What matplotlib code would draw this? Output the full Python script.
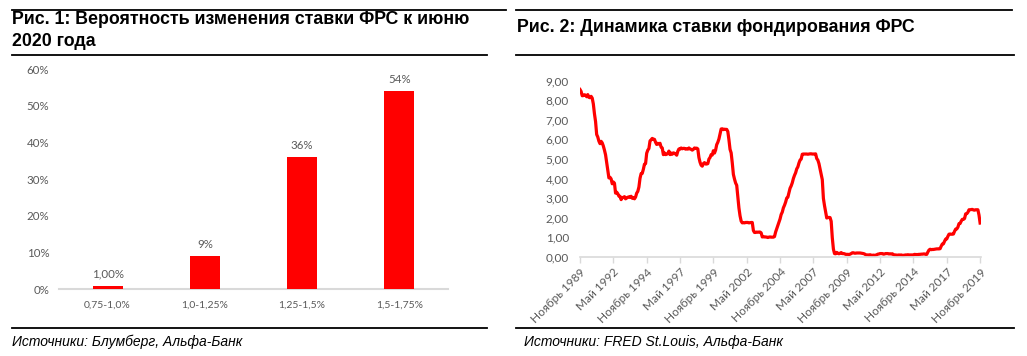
import matplotlib
matplotlib.use("Agg")
import matplotlib.pyplot as plt
from matplotlib.lines import Line2D

# ---------------- data ----------------
prob_categories = ["0,75-1,0%", "1,0-1,25%", "1,25-1,5%", "1,5-1,75%"]
prob_values = [1, 9, 36, 54]
prob_labels = ["1,00%", "9%", "36%", "54%"]
prob_yticks = [0, 10, 20, 30, 40, 50, 60]
prob_yticklabels = ["0%", "10%", "20%", "30%", "40%", "50%", "60%"]

# Effective Fed funds rate, monthly from Nov 1989 to Nov 2019
rate_1989 = [8.55, 8.45]
rate_1990 = [8.23, 8.24, 8.28, 8.26, 8.18, 8.29, 8.15, 8.13, 8.20, 8.11, 7.81, 7.31]
rate_1991 = [6.91, 6.25, 6.12, 5.91, 5.78, 5.90, 5.82, 5.66, 5.45, 5.21, 4.81, 4.43]
rate_1992 = [4.03, 4.06, 3.98, 3.73, 3.82, 3.76, 3.25, 3.30, 3.22, 3.10, 3.09, 2.92]
rate_1993 = [3.02, 3.03, 3.07, 2.96, 3.00, 3.04, 3.06, 3.03, 3.09, 2.99, 3.02, 2.96]
rate_1994 = [3.05, 3.25, 3.34, 3.56, 4.01, 4.25, 4.26, 4.47, 4.73, 4.76, 5.29, 5.45]
rate_1995 = [5.53, 5.92, 5.98, 6.05, 6.01, 6.00, 5.85, 5.74, 5.80, 5.76, 5.80, 5.60]
rate_1996 = [5.56, 5.22, 5.31, 5.22, 5.24, 5.27, 5.40, 5.22, 5.30, 5.24, 5.31, 5.29]
rate_1997 = [5.25, 5.19, 5.39, 5.51, 5.50, 5.56, 5.52, 5.54, 5.54, 5.50, 5.52, 5.50]
rate_1998 = [5.56, 5.51, 5.49, 5.45, 5.49, 5.56, 5.54, 5.55, 5.51, 5.07, 4.83, 4.68]
rate_1999 = [4.63, 4.76, 4.81, 4.74, 4.74, 4.76, 4.99, 5.07, 5.22, 5.20, 5.42, 5.30]
rate_2000 = [5.45, 5.73, 5.85, 6.02, 6.27, 6.53, 6.54, 6.50, 6.52, 6.51, 6.51, 6.40]
rate_2001 = [5.98, 5.49, 5.31, 4.80, 4.21, 3.97, 3.77, 3.65, 3.07, 2.49, 2.09, 1.82]
rate_2002 = [1.73, 1.74, 1.73, 1.75, 1.75, 1.75, 1.73, 1.74, 1.75, 1.75, 1.34, 1.24]
rate_2003 = [1.24, 1.26, 1.25, 1.26, 1.26, 1.22, 1.01, 1.03, 1.01, 1.01, 1.00, 0.98]
rate_2004 = [1.00, 1.01, 1.00, 1.00, 1.00, 1.03, 1.26, 1.43, 1.61, 1.76, 1.93, 2.16]
rate_2005 = [2.28, 2.50, 2.63, 2.79, 3.00, 3.04, 3.26, 3.50, 3.62, 3.78, 4.00, 4.16]
rate_2006 = [4.29, 4.49, 4.59, 4.79, 4.94, 4.99, 5.24, 5.25, 5.25, 5.25, 5.25, 5.24]
rate_2007 = [5.25, 5.26, 5.26, 5.25, 5.25, 5.25, 5.26, 5.02, 4.94, 4.76, 4.49, 4.24]
rate_2008 = [3.94, 2.98, 2.61, 2.28, 1.98, 2.00, 2.01, 2.00, 1.81, 0.97, 0.39, 0.16]
rate_2009 = [0.15, 0.22, 0.18, 0.15, 0.18, 0.21, 0.16, 0.16, 0.15, 0.12, 0.12, 0.12]
rate_2010 = [0.11, 0.13, 0.16, 0.20, 0.20, 0.18, 0.18, 0.19, 0.19, 0.19, 0.19, 0.18]
rate_2011 = [0.17, 0.16, 0.14, 0.10, 0.09, 0.09, 0.07, 0.10, 0.08, 0.07, 0.08, 0.07]
rate_2012 = [0.08, 0.10, 0.13, 0.14, 0.16, 0.16, 0.16, 0.13, 0.14, 0.16, 0.16, 0.16]
rate_2013 = [0.14, 0.15, 0.14, 0.15, 0.11, 0.09, 0.09, 0.08, 0.08, 0.09, 0.08, 0.09]
rate_2014 = [0.07, 0.07, 0.08, 0.09, 0.09, 0.10, 0.09, 0.09, 0.09, 0.09, 0.09, 0.12]
rate_2015 = [0.11, 0.11, 0.11, 0.12, 0.12, 0.13, 0.13, 0.14, 0.14, 0.12, 0.12, 0.24]
rate_2016 = [0.34, 0.38, 0.36, 0.37, 0.37, 0.38, 0.39, 0.40, 0.40, 0.40, 0.41, 0.54]
rate_2017 = [0.65, 0.66, 0.79, 0.90, 0.91, 1.04, 1.15, 1.16, 1.15, 1.15, 1.16, 1.30]
rate_2018 = [1.41, 1.42, 1.51, 1.69, 1.70, 1.82, 1.91, 1.91, 1.95, 2.19, 2.20, 2.27]
rate_2019 = [2.40, 2.40, 2.41, 2.42, 2.39, 2.38, 2.40, 2.40, 2.40, 2.13, 1.72]

rate_years = [rate_1989, rate_1990, rate_1991, rate_1992, rate_1993, rate_1994,
              rate_1995, rate_1996, rate_1997, rate_1998, rate_1999, rate_2000,
              rate_2001, rate_2002, rate_2003, rate_2004, rate_2005, rate_2006,
              rate_2007, rate_2008, rate_2009, rate_2010, rate_2011, rate_2012,
              rate_2013, rate_2014, rate_2015, rate_2016, rate_2017, rate_2018,
              rate_2019]
rates = [v for yr in rate_years for v in yr]

date_labels = ["Ноябрь 1989", "Май 1992", "Ноябрь 1994", "Май 1997", "Ноябрь 1999",
               "Май 2002", "Ноябрь 2004", "Май 2007", "Ноябрь 2009", "Май 2012",
               "Ноябрь 2014", "Май 2017", "Ноябрь 2019"]
date_ticks = [30 * i for i in range(len(date_labels))]
rate_yticks = [0, 1, 2, 3, 4, 5, 6, 7, 8, 9]
rate_yticklabels = ["0,00", "1,00", "2,00", "3,00", "4,00", "5,00", "6,00",
                    "7,00", "8,00", "9,00"]

# ---------------- style ----------------
W, H = 1027, 356
RED = "#FF0000"
GRAY_TXT = "#595959"
AXIS_GRAY = "#D9D9D9"
TICK_FONT = "Lato"
HEAD_FONT = "Liberation Sans"

fig = plt.figure(figsize=(W / 100, H / 100), dpi=100)
fig.patch.set_facecolor("white")


def fx(px):
    return px / W


def fy(py):
    return 1 - py / H


def hline(x0, x1, y, lw=1.3):
    fig.add_artist(Line2D([fx(x0), fx(x1)], [fy(y), fy(y)], color="black",
                          lw=lw, transform=fig.transFigure))


# rules
hline(12, 506, 9.5)
hline(12, 487, 55)
hline(12, 487, 328)
hline(516, 1012, 9.5)
hline(516, 1014, 55)
hline(516, 1014, 328)

# headings
fig.text(fx(12), fy(20), "Рис. 1: Вероятность изменения ставки ФРС к июню",
         fontsize=12.8, fontweight="bold", family=HEAD_FONT, va="center", ha="left")
fig.text(fx(12), fy(41), "2020 года",
         fontsize=12.8, fontweight="bold", family=HEAD_FONT, va="center", ha="left")
fig.text(fx(517), fy(27), "Рис. 2: Динамика ставки фондирования ФРС",
         fontsize=12.8, fontweight="bold", family=HEAD_FONT, va="center", ha="left")
fig.text(fx(12), fy(342), "Источники: Блумберг, Альфа-Банк",
         fontsize=10, style="italic", family=HEAD_FONT, va="center", ha="left")
fig.text(fx(524), fy(342), "Источники: FRED St.Louis, Альфа-Банк",
         fontsize=10, style="italic", family=HEAD_FONT, va="center", ha="left")

# ---------------- left chart ----------------
ax1 = fig.add_axes([fx(59), fy(289.3), fx(448 - 59), (289.3 - 69) / H])
x1 = list(range(len(prob_categories)))
bars = ax1.bar(x1, prob_values, width=0.31, color=RED, zorder=3)
ax1.set_xlim(-0.5, len(prob_categories) - 0.5)
ax1.set_ylim(0, 60)
ax1.set_yticks(prob_yticks)
ax1.set_yticklabels(prob_yticklabels)
ax1.set_xticks(x1)
ax1.set_xticklabels(prob_categories)
for s in ["top", "right", "left"]:
    ax1.spines[s].set_visible(False)
ax1.spines["bottom"].set_color(AXIS_GRAY)
ax1.spines["bottom"].set_linewidth(1.5)
ax1.tick_params(axis="x", length=0, colors=GRAY_TXT, labelsize=7.5, pad=8)
ax1.tick_params(axis="y", length=0, colors=GRAY_TXT, labelsize=8.3, pad=7)
for lab in ax1.get_xticklabels() + ax1.get_yticklabels():
    lab.set_family(TICK_FONT)
for b, lab in zip(bars, prob_labels):
    ax1.annotate(lab, (b.get_x() + b.get_width() / 2, b.get_height()),
                 xytext=(0, 4.5), textcoords="offset points", ha="center",
                 va="bottom", fontsize=8.3, color=GRAY_TXT, family=TICK_FONT)

# ---------------- right chart ----------------
ax2 = fig.add_axes([fx(580), fy(256.7), fx(981 - 580), (256.7 - 80.7) / H])
ax2.plot(range(len(rates)), rates, color=RED, lw=2.3, solid_joinstyle="round")
ax2.set_xlim(0, len(rates) - 0.2)
ax2.set_ylim(0, 9)
ax2.set_yticks(rate_yticks)
ax2.set_yticklabels(rate_yticklabels)
ax2.set_xticks(date_ticks)
ax2.set_xticklabels(date_labels, rotation=45, ha="right", va="top",
                    rotation_mode="anchor")
for s in ["top", "right", "left"]:
    ax2.spines[s].set_visible(False)
ax2.spines["bottom"].set_color(AXIS_GRAY)
ax2.spines["bottom"].set_linewidth(1.2)
ax2.tick_params(axis="y", length=0, colors=GRAY_TXT, labelsize=8.5, pad=8)
ax2.tick_params(axis="x", length=4, width=1, color=AXIS_GRAY,
                labelcolor=GRAY_TXT, labelsize=8.5, pad=3)
for lab in ax2.get_xticklabels() + ax2.get_yticklabels():
    lab.set_family(TICK_FONT)

fig.savefig("out.png", dpi=100, facecolor="white")
